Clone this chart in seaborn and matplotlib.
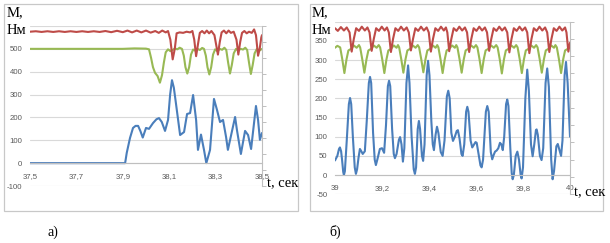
import matplotlib
matplotlib.use("Agg")
import matplotlib.pyplot as plt
import seaborn as sns
from matplotlib.patches import Rectangle

# ---- panel a) : 37.5 .. 38.5 s ----
t_a_blue = [37.5, 37.91, 37.917, 37.931, 37.944, 37.955, 37.966, 37.976, 37.986, 38.0, 38.013,
            38.03, 38.045, 38.056, 38.068, 38.082, 38.095, 38.104, 38.112, 38.12, 38.129, 38.147,
            38.164, 38.177, 38.19, 38.203, 38.216, 38.224, 38.237, 38.25, 38.26, 38.276, 38.293,
            38.306, 38.319, 38.332, 38.345, 38.353, 38.384, 38.392, 38.409, 38.427, 38.44, 38.453,
            38.474, 38.483, 38.491, 38.5]
v_a_blue = [0, 0, 45, 110, 154, 163, 163, 140, 112, 154, 150,
            175, 192, 197, 180, 141, 189, 300, 363, 330, 262, 123,
            136, 215, 219, 298, 189, 58, 125, 58, 0, 58, 281,
            233, 180, 189, 115, 58, 202, 145, 40, 141, 123, 62,
            250, 189, 102, 132]

t_a_red = [37.5, 37.525, 37.55, 37.575, 37.6, 37.625, 37.65, 37.675, 37.7, 37.725, 37.75, 37.775,
           37.8, 37.825, 37.85, 37.875, 37.9, 37.92, 37.94, 37.96, 37.98, 38.0, 38.02, 38.04,
           38.055, 38.07, 38.085, 38.095, 38.105, 38.115, 38.124, 38.132, 38.145, 38.16, 38.175,
           38.19, 38.2, 38.208, 38.216, 38.224, 38.232, 38.242, 38.252, 38.262, 38.272, 38.282,
           38.295, 38.31, 38.318, 38.326, 38.336, 38.346, 38.356, 38.366, 38.378, 38.39, 38.398,
           38.406, 38.414, 38.424, 38.434, 38.444, 38.456, 38.466, 38.474, 38.483, 38.49, 38.497,
           38.5]
v_a_red = [575, 577, 574, 577, 574, 577, 574, 577, 574, 577, 574, 577,
           574, 578, 573, 579, 573, 580, 572, 580, 572, 580, 571, 578,
           570, 580, 572, 578, 540, 454, 500, 568, 572, 570, 575,
           572, 578, 540, 468, 520, 570, 578, 568, 580, 568, 578,
           560, 475, 530, 572, 580, 568, 580, 570, 575, 540, 475,
           530, 570, 578, 568, 575, 570, 585, 560, 470, 500, 550,
           560]

t_a_green = [37.5, 37.7, 37.9, 37.95, 38.0, 38.013, 38.022, 38.03, 38.039, 38.05, 38.06, 38.069,
             38.077, 38.085, 38.095, 38.105, 38.115, 38.125, 38.135, 38.145, 38.155, 38.163,
             38.17, 38.178, 38.186, 38.194, 38.203, 38.213, 38.222, 38.232, 38.242, 38.25,
             38.258, 38.265, 38.273, 38.281, 38.289, 38.298, 38.308, 38.318, 38.328, 38.338,
             38.346, 38.354, 38.362, 38.37, 38.378, 38.388, 38.398, 38.408, 38.418, 38.428,
             38.436, 38.444, 38.452, 38.46, 38.468, 38.478, 38.488, 38.5]
v_a_green = [500, 500, 500, 502, 501, 498, 460, 420, 395, 381, 352, 385,
             440, 485, 498, 490, 495, 502, 498, 505, 500, 470,
             420, 392, 420, 475, 497, 492, 500, 495, 504, 500,
             470, 420, 388, 420, 475, 498, 490, 500, 496, 505,
             495, 440, 392, 430, 480, 500, 492, 500, 497, 505,
             495, 440, 390, 430, 480, 500, 492, 500]

xticks_a = [37.5, 37.7, 37.9, 38.1, 38.3, 38.5]
xlabels_a = ["37,5", "37,7", "37,9", "38,1", "38,3", "38,5"]
yticks_a = [-100, 0, 100, 200, 300, 400, 500, 600]
ylabels_a = ["-100", "0", "100", "200", "300", "400", "500", ""]

# ---- panel б) : 39 .. 40 s ----
t_b_blue = [39.0, 39.01, 39.017, 39.021, 39.026, 39.03, 39.035, 39.038, 39.042, 39.05, 39.059,
            39.064, 39.069, 39.076, 39.084, 39.089, 39.094, 39.1, 39.106, 39.112, 39.118, 39.127,
            39.135, 39.144, 39.149, 39.154, 39.162, 39.169, 39.174, 39.18, 39.191, 39.2, 39.209,
            39.217, 39.225, 39.23, 39.235, 39.243, 39.25, 39.255, 39.262, 39.272, 39.277, 39.283,
            39.289, 39.295, 39.304, 39.311, 39.317, 39.326, 39.335, 39.34, 39.345, 39.352, 39.357,
            39.362, 39.37, 39.375, 39.381, 39.39, 39.396, 39.402, 39.41, 39.416, 39.421, 39.428,
            39.434, 39.44, 39.45, 39.458, 39.466, 39.476, 39.482, 39.488, 39.495, 39.502, 39.51,
            39.518, 39.523, 39.53, 39.538, 39.543, 39.55, 39.558, 39.563, 39.568, 39.577, 39.584,
            39.592, 39.598, 39.603, 39.612, 39.619, 39.624, 39.63, 39.642, 39.648, 39.654, 39.663,
            39.669, 39.675, 39.681, 39.688, 39.695, 39.702, 39.708, 39.714, 39.72, 39.728, 39.733,
            39.738, 39.746, 39.752, 39.756, 39.761, 39.769, 39.776, 39.783, 39.79, 39.794, 39.8,
            39.81, 39.818, 39.825, 39.834, 39.841, 39.848, 39.855, 39.858, 39.863, 39.872, 39.879,
            39.886, 39.896, 39.903, 39.91, 39.92, 39.926, 39.932, 39.942, 39.948, 39.955, 39.962,
            39.968, 39.977, 39.983, 39.99, 40.0]
v_b_blue = [38, 50, 68, 72, 62, 40, 8, 0, 10, 90, 185,
            201, 185, 100, 20, 3, 15, 45, 68, 62, 55, 62,
            140, 240, 256, 240, 110, 40, 26, 40, 68, 70, 58,
            130, 232, 246, 232, 120, 55, 44, 55, 92, 99, 80,
            35, 70, 240, 286, 240, 100, 15, 3, 20, 120, 141,
            120, 50, 37, 80, 260, 298, 260, 140, 80, 65, 105,
            126, 110, 60, 50, 90, 205, 220, 200, 110, 89, 100,
            115, 117, 95, 55, 50, 80, 165, 178, 165, 90, 72,
            80, 86, 84, 50, 25, 20, 40, 165, 180, 165, 60,
            41, 52, 61, 64, 70, 84, 80, 65, 100, 185, 197,
            180, 70, 5, -11, 0, 50, 61, 40, 0, -9, 20,
            200, 275, 220, 80, 49, 80, 117, 119, 105, 50, 39,
            70, 240, 278, 230, 40, -11, 10, 75, 81, 65, 50,
            90, 260, 295, 240, 100]

t_b_red = [39.000, 39.012, 39.025, 39.038, 39.050, 39.062, 39.071, 39.080, 39.090, 39.102,
           39.114, 39.127, 39.138, 39.147, 39.156, 39.165, 39.175, 39.187, 39.199, 39.211,
           39.221, 39.229, 39.238, 39.247, 39.257, 39.269, 39.281, 39.293, 39.305, 39.314,
           39.323, 39.332, 39.342, 39.354, 39.366, 39.378, 39.390, 39.399, 39.408, 39.417,
           39.427, 39.439, 39.451, 39.463, 39.472, 39.478, 39.486, 39.495, 39.505, 39.517,
           39.529, 39.541, 39.553, 39.562, 39.571, 39.580, 39.590, 39.602, 39.614, 39.626,
           39.638, 39.647, 39.656, 39.665, 39.675, 39.687, 39.699, 39.711, 39.723, 39.733,
           39.742, 39.751, 39.761, 39.773, 39.785, 39.797, 39.809, 39.818, 39.827, 39.836,
           39.846, 39.858, 39.870, 39.882, 39.894, 39.903, 39.912, 39.921, 39.931, 39.943,
           39.955, 39.967, 39.979, 39.985, 39.993, 40.000]
v_b_red = [383, 376, 386, 377, 385, 372, 322, 355, 383, 376,
           387, 377, 385, 372, 324, 355, 383, 376, 387, 377,
           385, 372, 321, 355, 383, 376, 387, 377, 385, 372,
           325, 355, 383, 376, 387, 377, 385, 372, 322, 355,
           383, 376, 387, 377, 385, 372, 323, 355, 383, 376,
           387, 377, 385, 372, 321, 355, 383, 376, 387, 377,
           385, 372, 324, 355, 383, 376, 387, 377, 385, 372,
           320, 355, 383, 376, 387, 377, 385, 372, 318, 355,
           383, 376, 387, 377, 385, 372, 321, 355, 383, 376,
           387, 377, 385, 372, 322, 345]

t_b_green = [39.000, 39.010, 39.022, 39.031, 39.040, 39.049, 39.057, 39.068, 39.080, 39.092,
             39.102, 39.107, 39.116, 39.125, 39.134, 39.142, 39.153, 39.165, 39.177, 39.186,
             39.192, 39.201, 39.210, 39.219, 39.227, 39.238, 39.250, 39.262, 39.268, 39.273,
             39.282, 39.291, 39.300, 39.308, 39.319, 39.331, 39.343, 39.352, 39.358, 39.367,
             39.376, 39.385, 39.393, 39.404, 39.416, 39.428, 39.435, 39.440, 39.449, 39.458,
             39.467, 39.475, 39.486, 39.498, 39.510, 39.516, 39.521, 39.530, 39.539, 39.548,
             39.556, 39.567, 39.579, 39.591, 39.600, 39.606, 39.615, 39.624, 39.633, 39.641,
             39.652, 39.664, 39.676, 39.686, 39.692, 39.701, 39.710, 39.719, 39.727, 39.738,
             39.750, 39.762, 39.771, 39.777, 39.786, 39.795, 39.804, 39.812, 39.823, 39.835,
             39.847, 39.856, 39.862, 39.871, 39.880, 39.889, 39.897, 39.908, 39.920, 39.932,
             39.938, 39.944, 39.953, 39.962, 39.971, 39.979, 39.990, 40.000]
v_b_green = [332, 337, 333, 302, 266, 302, 325, 329, 338, 332,
             339, 333, 302, 267, 302, 325, 329, 338, 332, 339,
             333, 302, 266, 302, 325, 329, 338, 332, 339, 333,
             302, 267, 302, 325, 329, 338, 332, 339, 333, 302,
             268, 302, 325, 329, 338, 332, 339, 333, 302, 266,
             302, 325, 329, 338, 332, 339, 333, 302, 267, 302,
             325, 329, 338, 332, 339, 333, 302, 266, 302, 325,
             329, 338, 332, 339, 333, 302, 265, 302, 325, 329,
             338, 332, 339, 333, 302, 266, 302, 325, 329, 338,
             332, 339, 333, 302, 267, 302, 325, 329, 338, 332,
             339, 333, 302, 266, 302, 325, 329, 335]

xticks_b = [39.0, 39.2, 39.4, 39.6, 39.8, 40.0]
xlabels_b = ["39", "39,2", "39,4", "39,6", "39,8", "40"]
yticks_b = [-50, 0, 50, 100, 150, 200, 250, 300, 350, 400]
ylabels_b = ["-50", "0", "50", "100", "150", "200", "250", "300", "350", ""]

BLUE, RED, GREEN = "#4A7EBB", "#BE4B48", "#98B954"
GRID = "#D9D9D9"
AXC = "#BFBFBF"
TXT = "#595959"

sns.set_style("white")
plt.rcParams['font.family'] = ['Liberation Sans', 'DejaVu Sans']

W, H = 610, 243
fig = plt.figure(figsize=(W / 100, H / 100), dpi=100)


def px_rect(x0, y0, x1, y1):
    return [x0 / W, 1 - y1 / H, (x1 - x0) / W, (y1 - y0) / H]


# chart area frames
for x0, x1 in [(4, 298), (310, 603)]:
    r = px_rect(x0, 4, x1, 211)
    fig.patches.append(Rectangle((r[0], r[1]), r[2], r[3], transform=fig.transFigure,
                                 fill=False, ec="#C8C8C8", lw=0.9))


def panel(rect, series, xlim, ylim, xticks, xlabels, yticks, ylabels):
    ax = fig.add_axes(rect)
    for t, v, c in series:
        sns.lineplot(x=t, y=v, ax=ax, color=c, lw=1.5, estimator=None)
    ax.set_xlim(*xlim)
    ax.set_ylim(*ylim)
    ax.set_xticks(xticks)
    ax.set_xticklabels(xlabels)
    ax.set_yticks(yticks)
    ax.set_yticklabels(ylabels)
    ax.yaxis.grid(True, color=GRID, lw=0.8)
    ax.set_axisbelow(True)
    for s in ["left", "top", "right"]:
        ax.spines[s].set_visible(False)
    ax.spines["bottom"].set_position(("data", 0))
    ax.spines["bottom"].set_color(AXC)
    ax.spines["bottom"].set_linewidth(0.8)
    ax.tick_params(axis="x", direction="inout", length=3, width=0.7, color=AXC,
                   labelsize=5.6, labelcolor=TXT, pad=5.5)
    ax.tick_params(axis="y", length=0, labelsize=5.6, labelcolor=TXT, pad=5.5)
    ax.set_xlabel("")
    ax.set_ylabel("")
    # unlabelled secondary axis on the right
    ax2 = ax.twinx()
    ax2.set_ylim(0, 10)
    ax2.set_yticks(range(11))
    ax2.set_yticklabels([])
    ax2.tick_params(axis="y", length=3, width=0.7, color=AXC)
    for s in ["left", "top", "bottom"]:
        ax2.spines[s].set_visible(False)
    ax2.spines["right"].set_color(AXC)
    ax2.spines["right"].set_linewidth(0.8)
    return ax


panel(px_rect(30, 26, 262, 186),
      [(t_a_blue, v_a_blue, BLUE), (t_a_green, v_a_green, GREEN), (t_a_red, v_a_red, RED)],
      (37.5, 38.5), (-100, 600), xticks_a, xlabels_a, yticks_a, ylabels_a)

panel(px_rect(335, 21.7, 570, 194.2),
      [(t_b_blue, v_b_blue, BLUE), (t_b_green, v_b_green, GREEN), (t_b_red, v_b_red, RED)],
      (39.0, 40.0), (-50, 400), xticks_b, xlabels_b, yticks_b, ylabels_b)

serif = ['Liberation Serif', 'DejaVu Serif']


def ftext(x, y, s, size=10.5):
    fig.text(x / W, 1 - y / H, s, family=serif, size=size, va="center", ha="left", color="black")


ftext(7, 13, "M,")
ftext(7, 31, "Нм")
ftext(267, 184, "t, сек")
ftext(312, 13, "M,")
ftext(312, 31, "Нм")
ftext(574, 193, "t, сек")
ftext(47, 232, "а)", 10)
ftext(329, 232, "б)", 10)

fig.savefig("out.png", dpi=100)
